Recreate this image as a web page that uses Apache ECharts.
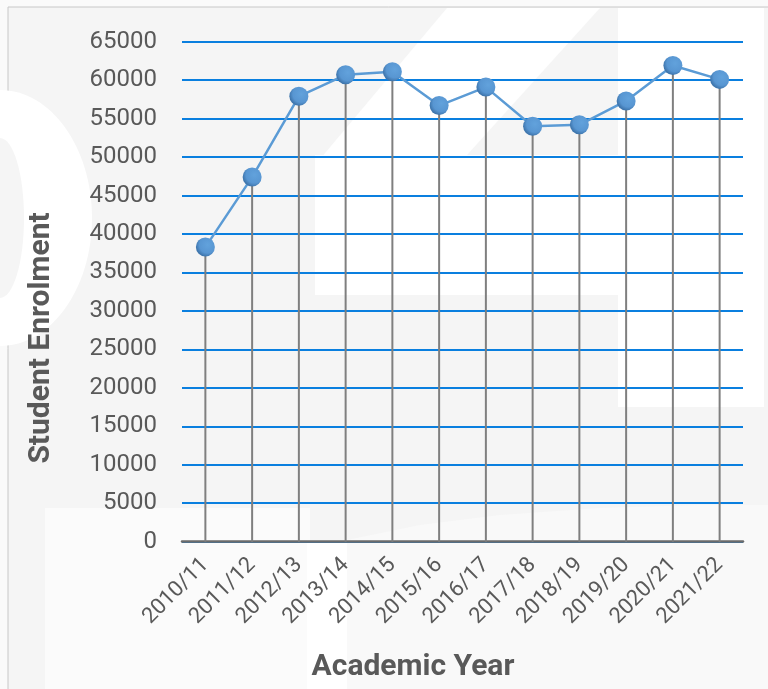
<!DOCTYPE html>
<html>
<head>
<meta charset="utf-8">
<script src="https://cdn.jsdelivr.net/npm/echarts@6/dist/echarts.min.js"></script>
<style>
html,body{margin:0;padding:0;background:#fafafa;}
#chart{width:768px;height:689px;}
</style>
</head>
<body>
<div id="chart"></div>
<script>
var categories = ['2010/11','2011/12','2012/13','2013/14','2014/15','2015/16','2016/17','2017/18','2018/19','2019/20','2020/21','2021/22'];
var enrolment = [38300, 47400, 57900, 60700, 61100, 56700, 59100, 54000, 54200, 57300, 61900, 60100];
var yMin = 0, yMax = 65000, yStep = 5000;
var xTitle = 'Academic Year';
var yTitle = 'Student Enrolment';

var chart = echarts.init(document.getElementById('chart'), null, {renderer:'canvas'});
var txt = '#595959';
var font = 'Roboto, "Liberation Sans", sans-serif';
var white = '#ffffff', bg = '#f5f5f5';
chart.setOption({
  animation:false,
  backgroundColor:'#fafafa',
  graphic:[
    {type:'rect', z:-100, shape:{x:8,y:7,width:800,height:700}, style:{fill:bg, stroke:'#c8c8c8', lineWidth:1}},
    {type:'ellipse', z:-99, shape:{cx:0,cy:218,rx:92,ry:128}, style:{fill:white}},
    {type:'ellipse', z:-98, shape:{cx:0,cy:218,rx:24,ry:80}, style:{fill:bg}},
    {type:'polygon', z:-99, shape:{points:[[447,8],[600,8],[458,165],[315,165]]}, style:{fill:white}},
    {type:'rect', z:-99, shape:{x:315,y:155,width:303,height:140}, style:{fill:white}},
    {type:'rect', z:-99, shape:{x:618,y:8,width:146,height:399}, style:{fill:white}},
    {type:'rect', z:-99, shape:{x:45,y:508,width:265,height:181}, style:{fill:'#fbfbfb'}},
    {type:'rect', z:-99, shape:{x:307,y:540,width:40,height:149}, style:{fill:white}},
    {type:'polygon', z:-99, shape:{points:[[347,540],[420,525],[500,515],[600,508],[700,505],[768,505],[768,689],[347,689]]}, style:{fill:'#f9f9f9'}},
    {type:'text', z:10, x:413, y:667, style:{text:xTitle, fill:txt, font:'bold 30px Roboto, sans-serif', textAlign:'center', textVerticalAlign:'middle'}},
    {type:'text', z:10, x:41, y:338, rotation:Math.PI/2, style:{text:yTitle, fill:txt, font:'bold 30px Roboto, sans-serif', textAlign:'center', textVerticalAlign:'middle'}}
  ],
  grid:{left:182, right:25, top:41.7, bottom:147.3, containLabel:false},
  xAxis:{
    type:'category', data:categories, boundaryGap:true,
    axisLine:{show:true, lineStyle:{color:'#6b6b6b', width:2.5}},
    axisTick:{show:false},
    axisLabel:{rotate:45, margin:20, color:txt, fontSize:22, fontFamily:font, interval:0}
  },
  yAxis:{
    type:'value', min:yMin, max:yMax, interval:yStep,
    axisLine:{show:false}, axisTick:{show:false},
    axisLabel:{margin:25, color:txt, fontSize:24, fontFamily:font, formatter:function(v){return String(v);}},
    splitLine:{show:true, lineStyle:{color:'#0a7fdf', width:2}}
  },
  series:[
    {type:'bar', data:enrolment, barWidth:2, z:1, itemStyle:{color:'#7f7f7f'}, silent:true},
    {type:'line', data:enrolment, z:5, symbol:'circle', symbolSize:19,
     lineStyle:{color:'#5b9bd5', width:2.5},
     itemStyle:{color:{type:'radial', x:0.62, y:0.38, r:0.62,
       colorStops:[{offset:0,color:'#62a2dc'},{offset:0.7,color:'#5896d2'},{offset:1,color:'#3f76ad'}]}, borderWidth:0}}
  ]
});
</script>
</body>
</html>
